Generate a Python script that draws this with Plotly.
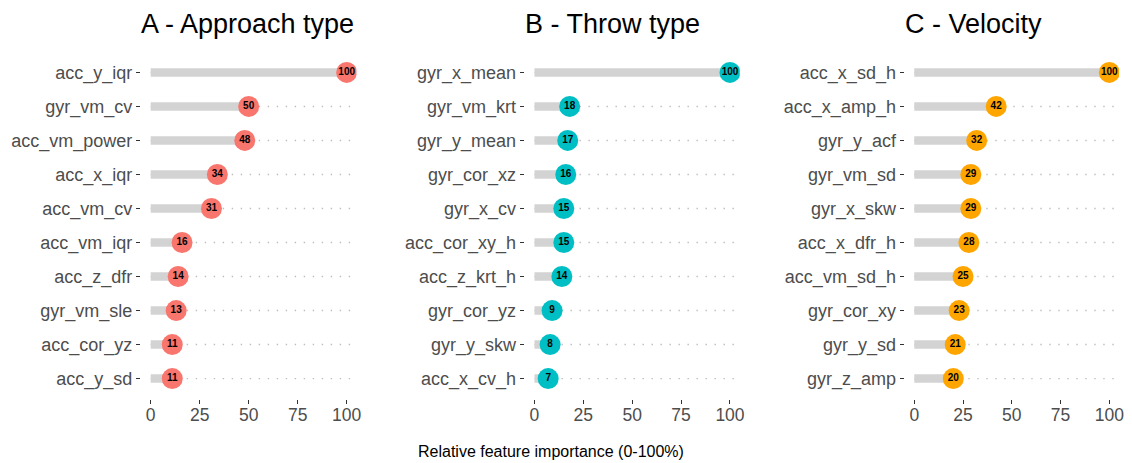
import plotly.graph_objects as go

# ---- data ----
titles = ["A - Approach type", "B - Throw type", "C - Velocity"]
feat_a = ["acc_y_iqr", "gyr_vm_cv", "acc_vm_power", "acc_x_iqr", "acc_vm_cv",
          "acc_vm_iqr", "acc_z_dfr", "gyr_vm_sle", "acc_cor_yz", "acc_y_sd"]
imp_a = [100, 50, 48, 34, 31, 16, 14, 13, 11, 11]
feat_b = ["gyr_x_mean", "gyr_vm_krt", "gyr_y_mean", "gyr_cor_xz", "gyr_x_cv",
          "acc_cor_xy_h", "acc_z_krt_h", "gyr_cor_yz", "gyr_y_skw", "acc_x_cv_h"]
imp_b = [100, 18, 17, 16, 15, 15, 14, 9, 8, 7]
feat_c = ["acc_x_sd_h", "acc_x_amp_h", "gyr_y_acf", "gyr_vm_sd", "gyr_x_skw",
          "acc_x_dfr_h", "acc_vm_sd_h", "gyr_cor_xy", "gyr_y_sd", "gyr_z_amp"]
imp_c = [100, 42, 32, 29, 29, 28, 25, 23, 21, 20]
x_ticks = [0, 25, 50, 75, 100]
x_title = "Relative feature importance (0-100%)"

colors = ["#F8766D", "#00BFC4", "#FFA500"]
panels = [(feat_a, imp_a), (feat_b, imp_b), (feat_c, imp_c)]

W, H = 1132, 455  # page body has an 8px margin
px_domains = [(133.5, 350), (519, 735), (900.5, 1116)]
x_domains = [[a / W, b / W] for a, b in px_domains]

FONT = "Liberation Sans, Arial, sans-serif"
fig = go.Figure()

for i, (feats, vals) in enumerate(panels):
    xa = "x" if i == 0 else f"x{i+1}"
    ya = "y" if i == 0 else f"y{i+1}"
    # dotted guide lines
    dx, dy = [], []
    for f in feats:
        dx += [0, 103, None]
        dy += [f, f, None]
    fig.add_trace(go.Scatter(x=dx, y=dy, mode="lines", xaxis=xa, yaxis=ya,
                             line=dict(color="#BDBDBD", width=1.4, dash="1.4px,7.6px"),
                             hoverinfo="skip", showlegend=False))
    # lollipop sticks
    sx, sy = [], []
    for f, v in zip(feats, vals):
        sx += [0, v, None]
        sy += [f, f, None]
    fig.add_trace(go.Scatter(x=sx, y=sy, mode="lines", xaxis=xa, yaxis=ya,
                             line=dict(color="#D3D3D3", width=8.5),
                             hoverinfo="skip", showlegend=False))
    # dots with labels
    fig.add_trace(go.Scatter(x=vals, y=feats, mode="markers+text", xaxis=xa, yaxis=ya,
                             marker=dict(size=21, color=colors[i], line=dict(width=0)),
                             text=[str(v) for v in vals],
                             texttemplate="<b>%{text}</b>",
                             textposition="middle center",
                             textfont=dict(size=10, color="black", family=FONT),
                             showlegend=False))
    fig.add_annotation(text=titles[i], x=x_domains[i][0], y=1, xref="paper", yref="paper",
                       yanchor="middle", xanchor="left", xshift=-2, yshift=28, showarrow=False,
                       font=dict(size=27, color="black", family=FONT))

layout = dict(
    width=W, height=H,
    margin=dict(l=0, r=0, t=43.5, b=63.5),
    paper_bgcolor="white", plot_bgcolor="white",
    font=dict(family=FONT),
)
for i, (feats, vals) in enumerate(panels):
    xk = "xaxis" if i == 0 else f"xaxis{i+1}"
    yk = "yaxis" if i == 0 else f"yaxis{i+1}"
    layout[xk] = dict(domain=x_domains[i], anchor=("y" if i == 0 else f"y{i+1}"),
                      range=[-5, 105], tickvals=x_ticks, ticks="outside", ticklen=4,
                      tickwidth=1.2, tickcolor="#333333", showgrid=False, zeroline=False,
                      showline=False, ticklabelstandoff=-4,
                      tickfont=dict(size=17.5, color="#4D4D4D"))
    layout[yk] = dict(domain=[0, 1], anchor=("x" if i == 0 else f"x{i+1}"), type="category",
                      categoryorder="array", categoryarray=feats[::-1],
                      range=[-0.6, 9.6], ticks="outside", ticklen=4, tickwidth=1.2,
                      tickcolor="#333333", showgrid=False, zeroline=False, showline=False,
                      tickfont=dict(size=18, color="#4D4D4D"))
fig.update_layout(**layout)
fig.add_annotation(text=x_title, x=545 / W, y=0, xref="paper", yref="paper",
                   yanchor="middle", xanchor="center", yshift=-52.5, showarrow=False,
                   font=dict(size=16, color="black", family=FONT))

fig.write_html("out.html")
